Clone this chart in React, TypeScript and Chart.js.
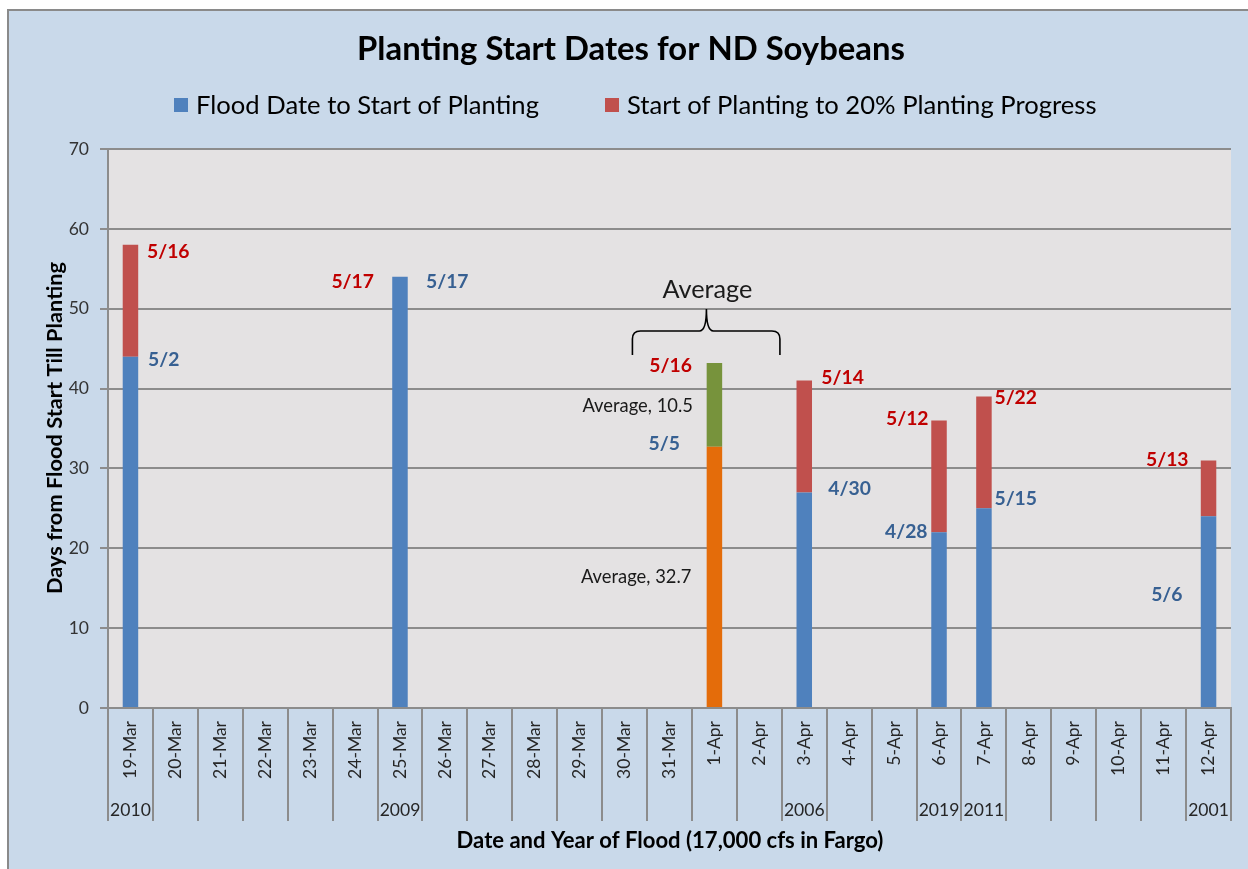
import React, { useEffect, useRef } from 'react';
import { Chart, registerables } from 'chart.js';

Chart.register(...registerables);

// ---------------- data ----------------
const categories = [
  '19-Mar', '20-Mar', '21-Mar', '22-Mar', '23-Mar', '24-Mar', '25-Mar', '26-Mar', '27-Mar',
  '28-Mar', '29-Mar', '30-Mar', '31-Mar', '1-Apr', '2-Apr', '3-Apr', '4-Apr', '5-Apr',
  '6-Apr', '7-Apr', '8-Apr', '9-Apr', '10-Apr', '11-Apr', '12-Apr',
];

const floodYears = [
  '2010', '', '', '', '', '', '2009', '', '', '', '', '', '', '', '', '2006', '', '',
  '2019', '2011', '', '', '', '', '2001',
];

const floodToStart = [
  44, null, null, null, null, null, 54, null, null, null, null, null, null, null, null, 27, null, null,
  22, 25, null, null, null, null, 24,
];

const startTo20 = [
  14, null, null, null, null, null, 0, null, null, null, null, null, null, null, null, 14, null, null,
  14, 14, null, null, null, null, 7,
];

const avgFloodToStart = [
  null, null, null, null, null, null, null, null, null, null, null, null, null, 32.7, null, null, null, null,
  null, null, null, null, null, null, null,
];

const avgStartTo20 = [
  null, null, null, null, null, null, null, null, null, null, null, null, null, 10.5, null, null, null, null,
  null, null, null, null, null, null, null,
];

const startDateLabels = [
  '5/2', '', '', '', '', '', '5/17', '', '', '', '', '', '', '5/5', '', '4/30', '', '',
  '4/28', '5/15', '', '', '', '', '5/6',
];

const endDateLabels = [
  '5/16', '', '', '', '', '', '5/17', '', '', '', '', '', '', '5/16', '', '5/14', '', '',
  '5/12', '5/22', '', '', '', '', '5/13',
];

const yTicks = [0, 10, 20, 30, 40, 50, 60, 70];

const TITLE = 'Planting Start Dates for ND Soybeans';
const SERIES1 = 'Flood Date to Start of Planting';
const SERIES2 = 'Start of Planting to 20% Planting Progress';
const X_TITLE = 'Date and Year of Flood (17,000 cfs in Fargo)';
const Y_TITLE = 'Days from Flood Start Till Planting';

// ---------------- styles / layout ----------------
const W = 1248;
const H = 869;
const FAMILY = 'Lato, "Open Sans", "DejaVu Sans", sans-serif';
const BLUE = '#4f81bd';
const RED = '#c0504d';
const ORANGE = '#e46c0a';
const GREEN = '#77933c';
const BLUE_TEXT = '#376092';
const RED_TEXT = '#c00000';
const GRID = '#8c8c8c';
const OUTER_BG = '#c9d9ea';
const PLOT_BG = '#e4e2e3';

// label placement: side ('L' text left of bar, 'R' right), dx from bar centre, dy from segment top
const blueLabelPlace: Record<number, [string, number, number]> = {
  0: ['R', 17.5, 3.5],
  6: ['R', 26, 5],
  13: ['L', 34.5, -3],
  15: ['R', 24, -4],
  18: ['L', 11.5, -1],
  19: ['R', 10.5, -10],
  24: ['L', 26, 78],
};
const redLabelPlace: Record<number, [string, number, number]> = {
  0: ['R', 16.5, 7],
  6: ['L', 26, 5],
  13: ['L', 22.5, 3],
  15: ['R', 17, -3],
  18: ['L', 10.5, -2],
  19: ['R', 10.5, 1],
  24: ['L', 20, -1],
};

function fitSize(text: string, weight: string, target: number): number {
  const c = document.createElement('canvas').getContext('2d') as CanvasRenderingContext2D;
  c.font = `${weight} 100px ${FAMILY}`;
  const w = c.measureText(text).width;
  return (100 * target) / w;
}

export default function App() {
  const ref = useRef<HTMLCanvasElement | null>(null);

  useEffect(() => {
    const canvas = ref.current;
    if (!canvas) return;

    const tickSize = fitSize('2010', 'normal', 40.7);
    const labelSize = fitSize('5/16', 'bold', 42.6);
    const avgSize = fitSize('Average, 10.5', 'normal', 110.6);
    const avgHeadSize = fitSize('Average', 'normal', 90);
    const titleSize = fitSize(TITLE, 'bold', 548);
    const legendSize = fitSize(SERIES1, 'normal', 343);
    const xTitleSize = fitSize(X_TITLE, 'bold', 427);
    const yTitleSize = fitSize(Y_TITLE, 'bold', 332);

    const bgPlugin = {
      id: 'bg',
      beforeDraw(chart: any) {
        const ctx = chart.ctx as CanvasRenderingContext2D;
        const a = chart.chartArea;
        ctx.save();
        ctx.fillStyle = '#ffffff';
        ctx.fillRect(0, 0, W, H);
        ctx.fillStyle = OUTER_BG;
        ctx.fillRect(8, 9, W, H);
        ctx.strokeStyle = '#8a8a8a';
        ctx.lineWidth = 2;
        ctx.beginPath();
        ctx.moveTo(8, H);
        ctx.lineTo(8, 10);
        ctx.lineTo(W, 10);
        ctx.stroke();
        ctx.fillStyle = PLOT_BG;
        ctx.fillRect(a.left, a.top, a.right - a.left, a.bottom - a.top);
        ctx.restore();
      },
    };

    const decoPlugin = {
      id: 'deco',
      afterDraw(chart: any) {
        const ctx = chart.ctx as CanvasRenderingContext2D;
        const xs = chart.scales.x;
        const a = chart.chartArea;
        const half = (xs.getPixelForValue(1) - xs.getPixelForValue(0)) / 2;
        ctx.save();

        // category separators (multi-level axis)
        ctx.strokeStyle = GRID;
        ctx.lineWidth = 2;
        for (let i = 0; i <= categories.length; i++) {
          const x = Math.round(xs.getPixelForValue(i) - half);
          ctx.beginPath();
          ctx.moveTo(x, a.bottom);
          ctx.lineTo(x, 821);
          ctx.stroke();
        }

        // year row
        ctx.fillStyle = '#262626';
        ctx.font = `normal ${tickSize}px ${FAMILY}`;
        ctx.textAlign = 'center';
        ctx.textBaseline = 'middle';
        floodYears.forEach((yr, i) => {
          if (yr) ctx.fillText(yr, xs.getPixelForValue(i), 810);
        });

        // title
        ctx.fillStyle = '#000';
        ctx.font = `bold ${titleSize}px ${FAMILY}`;
        ctx.textBaseline = 'alphabetic';
        ctx.fillText(TITLE, 631, 60);

        // legend
        ctx.fillStyle = BLUE;
        ctx.fillRect(174, 98, 14, 14);
        ctx.fillStyle = RED;
        ctx.fillRect(605, 98, 14, 14);
        ctx.fillStyle = '#000';
        ctx.font = `normal ${legendSize}px ${FAMILY}`;
        ctx.textAlign = 'left';
        ctx.textBaseline = 'middle';
        ctx.fillText(SERIES1, 196, 106);
        ctx.fillText(SERIES2, 627, 106);

        // axis titles
        ctx.font = `bold ${xTitleSize}px ${FAMILY}`;
        ctx.textAlign = 'center';
        ctx.fillText(X_TITLE, 670, 841);
        ctx.save();
        ctx.translate(55, 428);
        ctx.rotate(-Math.PI / 2);
        ctx.font = `bold ${yTitleSize}px ${FAMILY}`;
        ctx.fillText(Y_TITLE, 0, 0);
        ctx.restore();

        // data labels
        const mBlue = chart.getDatasetMeta(0).data;
        const mRed = chart.getDatasetMeta(1).data;
        const mOrange = chart.getDatasetMeta(2).data;
        const mGreen = chart.getDatasetMeta(3).data;
        ctx.font = `bold ${labelSize}px ${FAMILY}`;
        ctx.textBaseline = 'middle';
        const drawLabel = (text: string, el: any, place: [string, number, number], color: string) => {
          if (!text || !el || !place) return;
          const [side, dx, dy] = place;
          ctx.fillStyle = color;
          ctx.textAlign = side === 'L' ? 'right' : 'left';
          ctx.fillText(text, side === 'L' ? el.x - dx : el.x + dx, el.y + dy);
        };
        categories.forEach((_, i) => {
          const blueEl = floodToStart[i] != null ? mBlue[i] : avgFloodToStart[i] != null ? mOrange[i] : null;
          const redEl = startTo20[i] != null ? mRed[i] : avgStartTo20[i] != null ? mGreen[i] : null;
          drawLabel(startDateLabels[i], blueEl, blueLabelPlace[i], BLUE_TEXT);
          drawLabel(endDateLabels[i], redEl, redLabelPlace[i], RED_TEXT);
        });

        // average labels + brace
        ctx.font = `normal ${avgSize}px ${FAMILY}`;
        ctx.fillStyle = '#1a1a1a';
        ctx.textAlign = 'right';
        avgFloodToStart.forEach((v, i) => {
          if (v == null) return;
          const el = mOrange[i];
          ctx.fillText(`Average, ${v}`, el.x - 23, (el.y + el.base) / 2);
        });
        avgStartTo20.forEach((v, i) => {
          if (v == null) return;
          const el = mGreen[i];
          const c = el.x;
          ctx.fillText(`Average, ${v}`, c - 21.5, (el.y + el.base) / 2 + 1);
          // heading + brace
          ctx.textAlign = 'center';
          ctx.font = `normal ${avgHeadSize}px ${FAMILY}`;
          ctx.textBaseline = 'alphabetic';
          ctx.fillText('Average', c - 7, 298);
          const L = c - 82;
          const R = c + 65.5;
          const T = c - 8;
          ctx.strokeStyle = '#000';
          ctx.lineWidth = 1.6;
          ctx.beginPath();
          ctx.moveTo(L, 355);
          ctx.lineTo(L, 339);
          ctx.quadraticCurveTo(L, 331, L + 8, 331);
          ctx.lineTo(T - 7, 331);
          ctx.quadraticCurveTo(T, 331, T, 309);
          ctx.quadraticCurveTo(T, 331, T + 7, 331);
          ctx.lineTo(R - 8, 331);
          ctx.quadraticCurveTo(R, 331, R, 339);
          ctx.lineTo(R, 355);
          ctx.stroke();
        });

        ctx.restore();
      },
    };

    const chart = new Chart(canvas, {
      type: 'bar',
      data: {
        labels: categories,
        datasets: [
          { label: SERIES1, data: floodToStart, backgroundColor: BLUE },
          { label: SERIES2, data: startTo20, backgroundColor: RED },
          { label: 'Average flood to start', data: avgFloodToStart, backgroundColor: ORANGE },
          { label: 'Average start to 20%', data: avgStartTo20, backgroundColor: GREEN },
        ] as any,
      },
      options: {
        responsive: false,
        animation: false,
        devicePixelRatio: 1,
        layout: { padding: { left: 0, top: 149, right: 17, bottom: 0 } },
        datasets: { bar: { categoryPercentage: 1, barPercentage: 0.345, borderWidth: 0 } } as any,
        plugins: {
          legend: { display: false },
          title: { display: false },
          tooltip: { enabled: false },
        },
        scales: {
          x: {
            stacked: true,
            grid: { display: false, drawTicks: false },
            border: { display: true, color: GRID, width: 2 },
            ticks: {
              autoSkip: false,
              minRotation: 90,
              maxRotation: 90,
              padding: 13,
              color: '#262626',
              font: { family: FAMILY, size: tickSize },
            },
            afterFit(scale: any) {
              scale.height = H - 708;
            },
          },
          y: {
            stacked: true,
            min: 0,
            max: 70,
            afterBuildTicks(scale: any) {
              scale.ticks = yTicks.map((v) => ({ value: v }));
            },
            grid: { color: GRID, lineWidth: 2, tickLength: 8, drawTicks: true },
            border: { display: true, color: GRID, width: 2 },
            ticks: {
              padding: 11,
              color: '#333333',
              font: { family: FAMILY, size: tickSize },
            },
            afterFit(scale: any) {
              scale.width = 108;
            },
          },
        },
      },
      plugins: [bgPlugin, decoPlugin],
    } as any);

    return () => chart.destroy();
  }, []);

  return (
    <div style={{ position: 'fixed', left: 0, top: 0, width: W, height: H }}>
      <canvas ref={ref} width={W} height={H} style={{ display: 'block', width: W, height: H }} />
    </div>
  );
}
